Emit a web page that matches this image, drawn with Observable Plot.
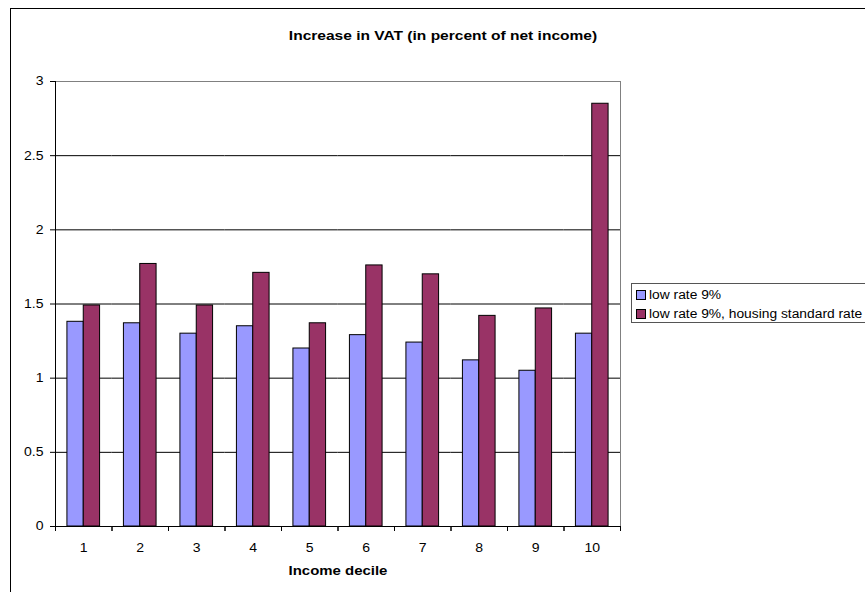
<!DOCTYPE html>
<html>
<head>
<meta charset="utf-8">
<script src="https://cdn.jsdelivr.net/npm/d3@7"></script>
<script src="https://cdn.jsdelivr.net/npm/@observablehq/plot@0.6"></script>
<style>
  html, body { margin: 0; padding: 0; background: #fff; overflow: hidden; }
  #wrap { position: relative; width: 865px; height: 592px; overflow: hidden;
          font-family: "Liberation Sans", Arial, sans-serif; color: #000; }
  #frame { position: absolute; left: 10px; top: 8px; width: 900px; height: 700px;
           border: 1px solid #000; box-sizing: border-box; }
  #chart { position: absolute; left: 0; top: 0; }
  #title { position: absolute; left: 443px; top: 28px; transform: translateX(-50%) scaleX(1.15);
           white-space: nowrap; font-weight: bold; font-size: 13.5px; }
  #xlabel { position: absolute; left: 338px; top: 563px; transform: translateX(-50%) scaleX(1.15);
            white-space: nowrap; font-weight: bold; font-size: 13px; }
  #legend { position: absolute; left: 631px; top: 283px; width: 260px; height: 40px;
            border: 1px solid #555; box-sizing: border-box; font-size: 12px; }
  .row { position: absolute; left: 4px; height: 14px; line-height: 14px; white-space: nowrap; }
  .sw { display: inline-block; width: 8px; height: 8px; border: 1px solid #000;
        vertical-align: -1px; margin-right: 3px; }
  .lt { display: inline-block; transform: scaleX(1.15); transform-origin: 0 50%; }
</style>
</head>
<body>
<div id="wrap">
  <div id="frame"></div>
  <div id="chart"></div>
  <div id="title"></div>
  <div id="xlabel"></div>
  <div id="legend"></div>
</div>
<script>
const deciles = ["1", "2", "3", "4", "5", "6", "7", "8", "9", "10"];
const seriesNames = ["low rate 9%", "low rate 9%, housing standard rate"];
const lowRate = [1.38, 1.37, 1.30, 1.35, 1.20, 1.29, 1.24, 1.12, 1.05, 1.30];
const housingStd = [1.49, 1.77, 1.49, 1.71, 1.37, 1.76, 1.70, 1.42, 1.47, 2.85];
const seriesColors = ["#9999FF", "#993366"];
const yTicks = [0, 0.5, 1, 1.5, 2, 2.5, 3];
const titleText = "Increase in VAT (in percent of net income)";
const xLabelText = "Income decile";

const data = deciles.flatMap((d, i) => [
  {decile: d, series: seriesNames[0], value: lowRate[i]},
  {decile: d, series: seriesNames[1], value: housingStd[i]}
]);

const W = 865, H = 592, mL = 55, mR = 245, mT = 81, mB = 66;
const bw = (W - mL - mR) / deciles.length;

const chart = Plot.plot({
  width: W, height: H,
  marginLeft: mL, marginRight: mR, marginTop: mT, marginBottom: mB,
  style: {fontFamily: "Liberation Sans, Arial, sans-serif", fontSize: "12px", background: "transparent", color: "#000"},
  fx: {domain: deciles, padding: 0, round: false, label: null},
  x: {domain: seriesNames, paddingInner: 0, paddingOuter: 0.73, round: false, axis: null},
  y: {domain: [0, 3], label: null},
  color: {domain: seriesNames, range: seriesColors},
  marks: [
    Plot.frame({stroke: "#808080", facet: "super"}),
    Plot.ruleY(yTicks.filter(t => t > 0 && t < 3), {stroke: "#000", strokeWidth: 1}),
    Plot.barY(data, {fx: "decile", x: "series", y: "value", fill: "series", stroke: "#000", strokeWidth: 1}),
    Plot.ruleY([0], {stroke: "#000", strokeWidth: 1}),
    Plot.frame({anchor: "left", stroke: "#000", facet: "super"}),
    Plot.axisY({ticks: yTicks, tickSize: 5, tickPadding: 7, tickFormat: d => String(d), label: null, stroke: "#000"}),
    Plot.axisFx({anchor: "bottom", tickSize: 0, tickPadding: 17, label: null}),
    Plot.axisFx({anchor: "bottom", tickSize: 5, text: null, label: null, dx: -bw / 2, stroke: "#000"}),
    Plot.axisFx(deciles.slice(-1), {anchor: "bottom", tickSize: 5, text: null, label: null, dx: bw / 2, stroke: "#000"})
  ]
});
document.getElementById("chart").appendChild(chart);
// widen tick label glyphs horizontally (reference text is horizontally stretched)
d3.select(chart).selectAll("text").each(function () {
  const L = this.getComputedTextLength();
  if (L > 0) {
    this.setAttribute("textLength", (L * 1.17).toFixed(2));
    this.setAttribute("lengthAdjust", "spacingAndGlyphs");
  }
});

document.getElementById("title").textContent = titleText;
document.getElementById("xlabel").textContent = xLabelText;
const legend = document.getElementById("legend");
seriesNames.forEach((name, i) => {
  const row = document.createElement("div");
  row.className = "row";
  row.style.top = (4 + i * 19) + "px";
  const sw = document.createElement("span");
  sw.className = "sw";
  sw.style.background = seriesColors[i];
  row.appendChild(sw);
  const lt = document.createElement("span");
  lt.className = "lt";
  lt.textContent = name;
  row.appendChild(lt);
  legend.appendChild(row);
});
</script>
</body>
</html>
